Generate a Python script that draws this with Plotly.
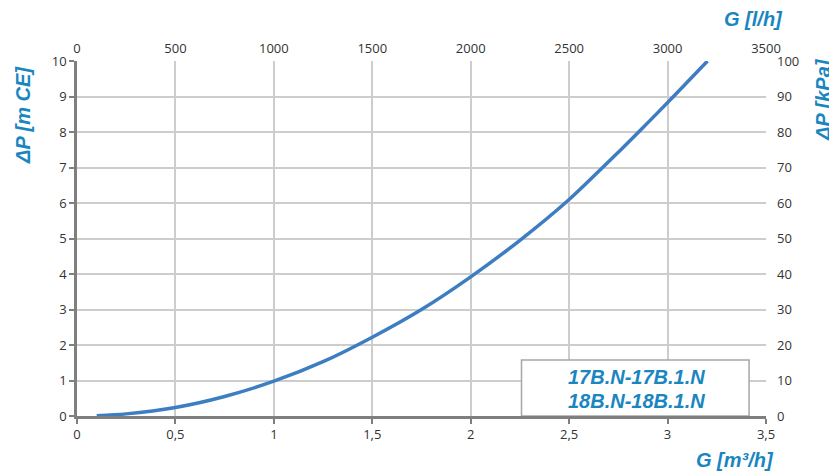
import plotly.graph_objects as go

# Data
flow_m3h = [0.10, 0.25, 0.50, 0.75, 1.00, 1.25, 1.50, 1.75, 2.00, 2.25, 2.50, 2.67, 2.853, 3.03, 3.203]
dp_mce = [0.01, 0.06, 0.24, 0.55, 0.98, 1.53, 2.22, 3.00, 3.92, 4.95, 6.10, 7.00, 8.00, 9.00, 10.0]
flow_lh = [v * 1000 for v in flow_m3h]
dp_kpa = [v * 10 for v in dp_mce]

x_ticks = [0, 0.5, 1, 1.5, 2, 2.5, 3, 3.5]
x_labels = ["0", "0,5", "1", "1,5", "2", "2,5", "3", "3,5"]
x2_ticks = [0, 500, 1000, 1500, 2000, 2500, 3000, 3500]
y_ticks = list(range(0, 11))
y2_ticks = list(range(0, 101, 10))
legend_lines = ["17B.N-17B.1.N", "18B.N-18B.1.N"]

BLUE = "#1A86BF"
TICKF = dict(family="Open Sans, Liberation Sans, Arial", size=13, color="#333333")
TITLEF = dict(family="Liberation Sans, Arial", size=20, color=BLUE)

# plot area in page pixels
PL, PR, PT, PB = 77, 766, 61, 416
W, H = 829, 472

fig = go.Figure()
fig.add_trace(go.Scatter(x=flow_m3h, y=dp_mce, mode="lines",
                         line=dict(color="#3D7DC2", width=3.5, shape="spline", smoothing=0.8),
                         showlegend=False, hoverinfo="skip"))
fig.add_trace(go.Scatter(x=flow_lh, y=dp_kpa, xaxis="x2", yaxis="y2", mode="lines",
                         line=dict(color="rgba(0,0,0,0)", width=0),
                         showlegend=False, hoverinfo="skip"))

fig.update_layout(
    width=W, height=H,
    margin=dict(l=PL, r=W - PR, t=PT, b=H - PB, autoexpand=False),
    paper_bgcolor="white", plot_bgcolor="white",
    separators=",.",
    xaxis=dict(range=[0, 3.5], tickvals=x_ticks, ticktext=x_labels,
               showgrid=True, gridcolor="#CDCDCD", gridwidth=1.5,
               showline=True, linecolor="#7F7F7F", linewidth=2.5,
               ticks="outside", ticklen=5, tickcolor="#7F7F7F", tickwidth=1.5,
               tickfont=TICKF, zeroline=False, fixedrange=True),
    xaxis2=dict(range=[0, 3500], tickvals=x2_ticks, overlaying="x", side="top",
                anchor="y", showgrid=False, showline=False, ticks="",
                ticklabelstandoff=4,
                tickfont=TICKF, zeroline=False, fixedrange=True),
    yaxis=dict(range=[0, 10], tickvals=y_ticks,
               showgrid=True, gridcolor="#CDCDCD", gridwidth=1.5,
               showline=True, linecolor="#7F7F7F", linewidth=2.5,
               ticks="outside", ticklen=5, tickcolor="#7F7F7F", tickwidth=1.5,
               tickfont=TICKF, zeroline=False, fixedrange=True),
    yaxis2=dict(range=[0, 100], tickvals=y2_ticks, overlaying="y", side="right",
                anchor="x", showgrid=False, showline=False, ticks="",
                ticklabelstandoff=10,
                tickfont=TICKF, zeroline=False, fixedrange=True),
)

def dx(px):
    return (px - PL) / (PR - PL)

def dy(py):
    return (PB - py) / (PB - PT)

# Box with model names
fig.add_shape(type="rect", xref="x", yref="y", x0=2.258, x1=3.414, y0=0, y1=1.58,
              line=dict(color="#A6A6A6", width=1.5), fillcolor="white", layer="between")
fig.add_annotation(xref="x domain", yref="y domain", x=dx(636), y=dy(377),
                   text="<b><i>%s</i></b>" % legend_lines[0], showarrow=False, font=TITLEF,
                   xanchor="center", yanchor="middle")
fig.add_annotation(xref="x domain", yref="y domain", x=dx(636), y=dy(401),
                   text="<b><i>%s</i></b>" % legend_lines[1], showarrow=False, font=TITLEF,
                   xanchor="center", yanchor="middle")

# Axis titles
fig.add_annotation(xref="x domain", yref="y domain", x=dx(735), y=dy(460),
                   text="<b><i>G [m³/h]</i></b>", showarrow=False, font=TITLEF,
                   xanchor="center", yanchor="middle")
fig.add_annotation(xref="x domain", yref="y domain", x=dx(753), y=dy(19),
                   text="<b><i>G [l/h]</i></b>", showarrow=False, font=TITLEF,
                   xanchor="center", yanchor="middle")
fig.add_annotation(xref="x domain", yref="y domain", x=dx(23), y=dy(115),
                   text="<b><i>ΔP [m CE]</i></b>", showarrow=False, font=TITLEF, textangle=-90,
                   xanchor="center", yanchor="middle")
fig.add_annotation(xref="x domain", yref="y domain", x=dx(823), y=dy(100),
                   text="<b><i>ΔP [kPa]</i></b>", showarrow=False, font=TITLEF, textangle=-90,
                   xanchor="center", yanchor="middle")

fig.write_html("out.html", config={"displayModeBar": False},
               post_script="document.body.style.margin='0';document.body.style.overflow='hidden';")
